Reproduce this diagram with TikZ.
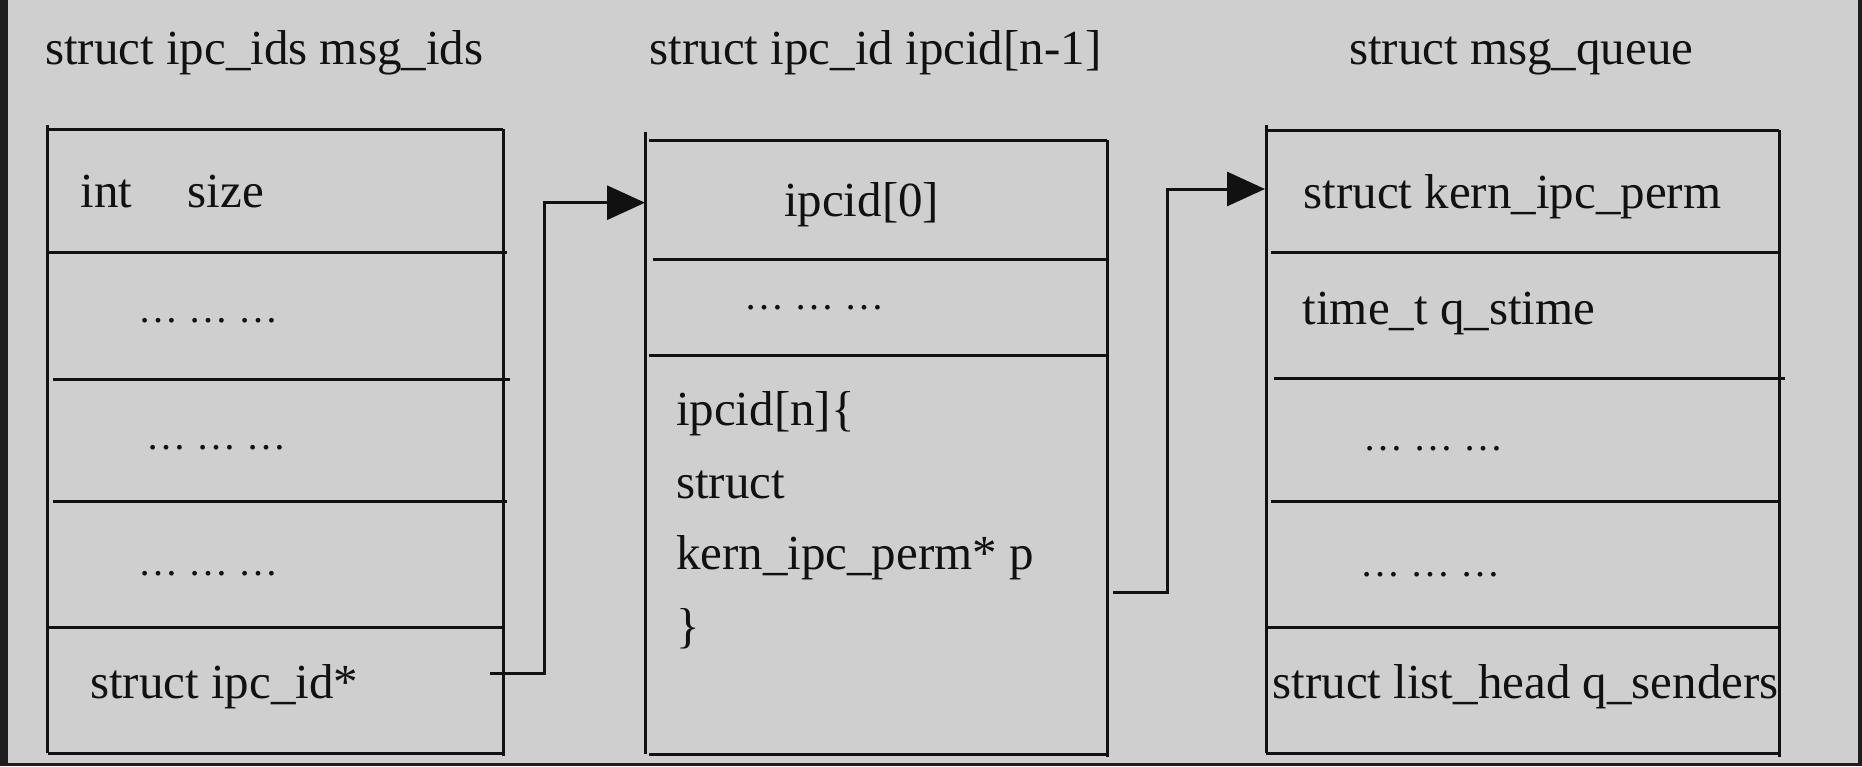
\documentclass[tikz,border=0pt]{standalone}
\usepackage{fontspec}
\setmainfont{Liberation Serif}
\usetikzlibrary{arrows.meta}
\definecolor{bg}{HTML}{CFCFCF}
\definecolor{frame}{HTML}{1E1E1E}
\definecolor{ink}{HTML}{111111}
\begin{document}
\begin{tikzpicture}[x=1pt,y=-1pt,
  rule/.style={draw=ink,line width=3pt},
  link/.style={draw=ink,line width=3pt},
  tip/.style={-{Triangle[length=38pt,width=34pt]}},
  lbl/.style={anchor=base west,inner sep=0pt,outer sep=0pt,text=ink,font=\fontsize{49}{58}\selectfont},
  dotted text/.style={anchor=base west,inner sep=0pt,outer sep=0pt,text=ink,font=\fontsize{40}{48}\selectfont}
]
\useasboundingbox (0,0) rectangle (1862,766);
\fill[bg] (0,0) rectangle (1862,766);
\fill[frame] (0,0) rectangle (8,766);
\fill[frame] (0,763) rectangle (1862,766);
\fill[frame] (1858,0) rectangle (1862,766);

% titles
\node[lbl] (tA) at (45,64) {struct ipc\_ids msg\_ids};
\node[lbl] (tB) at (649.6,64) {struct ipc\_id ipcid[n-1]};
\node[lbl] (tC) at (1349,64) {struct msg\_queue};

% box A
\draw[rule] (47.5,125) -- (47.5,753);
\draw[rule] (47.5,129.3) -- (503,129.3);
\draw[rule] (503,129.3) -- (503,756);
\draw[rule] (47.5,252.7) -- (507,252.7);
\draw[rule] (53,379) -- (510,379);
\draw[rule] (53,501.7) -- (507,501.7);
\draw[rule] (47.5,627.7) -- (503,627.7);
\draw[rule] (47.5,753) -- (503,753);
\node[lbl] (a1a) at (80.75,207) {int};
\node[lbl] (a1b) at (187.6,207) {size};
\node[dotted text] (a2) at (138,322.7) {… … …};
\node[dotted text] (a3) at (146,449) {… … …};
\node[dotted text] (a4) at (138,575) {… … …};
\node[lbl] (a5) at (90,698) {struct ipc\_id*};

% box B
\draw[rule] (645,131.7) -- (645,754);
\draw[rule] (649,140) -- (1107,140);
\draw[rule] (1107,140) -- (1107,757);
\draw[rule] (653,259.3) -- (1107,259.3);
\draw[rule] (649,355) -- (1107,355);
\draw[rule] (649,754) -- (1107,754);
\node[lbl] (b1) at (784,216) {ipcid[0]};
\node[dotted text] (b2) at (744,309) {… … …};
\node[lbl] (b3) at (676,425) {ipcid[n]\{};
\node[lbl] (b4) at (676,498) {struct};
\node[lbl] (b5) at (676,569) {kern\_ipc\_perm* p};
\node[lbl] (b6) at (676,642) {\}};

% box C
\draw[rule] (1266,125) -- (1266,753);
\draw[rule] (1266,130) -- (1779,130);
\draw[rule] (1779,130) -- (1779,757);
\draw[rule] (1271,252.7) -- (1779,252.7);
\draw[rule] (1274,378) -- (1785,378);
\draw[rule] (1271,501.7) -- (1781,501.7);
\draw[rule] (1266,627.7) -- (1779,627.7);
\draw[rule] (1266,753) -- (1779,753);
\node[lbl] (c1) at (1303.5,208) {struct kern\_ipc\_perm};
\node[lbl] (c2) at (1302.7,324) {time\_t q\_stime};
\node[dotted text] (c3) at (1363,450) {… … …};
\node[dotted text] (c4) at (1360,576.7) {… … …};
\begin{scope}
\clip (1266,627.7) rectangle (1779,753);
\node[lbl] (c5) at (1272.5,698) {struct list\_head q\_senders};
\end{scope}
\draw[rule] (1779,627.7) -- (1779,757);

% connectors
\coordinate (aout) at (490,673.3);
\coordinate (aturn) at (544,673.3);
\coordinate (bin) at (645,202.7);
\draw[link,tip] (aout) -- (aturn) |- (bin);
\coordinate (bout) at (1113,592.7);
\coordinate (bturn) at (1167,592.7);
\coordinate (cin) at (1265,189);
\draw[link,tip] (bout) -- (bturn) |- (cin);
\end{tikzpicture}
\end{document}
